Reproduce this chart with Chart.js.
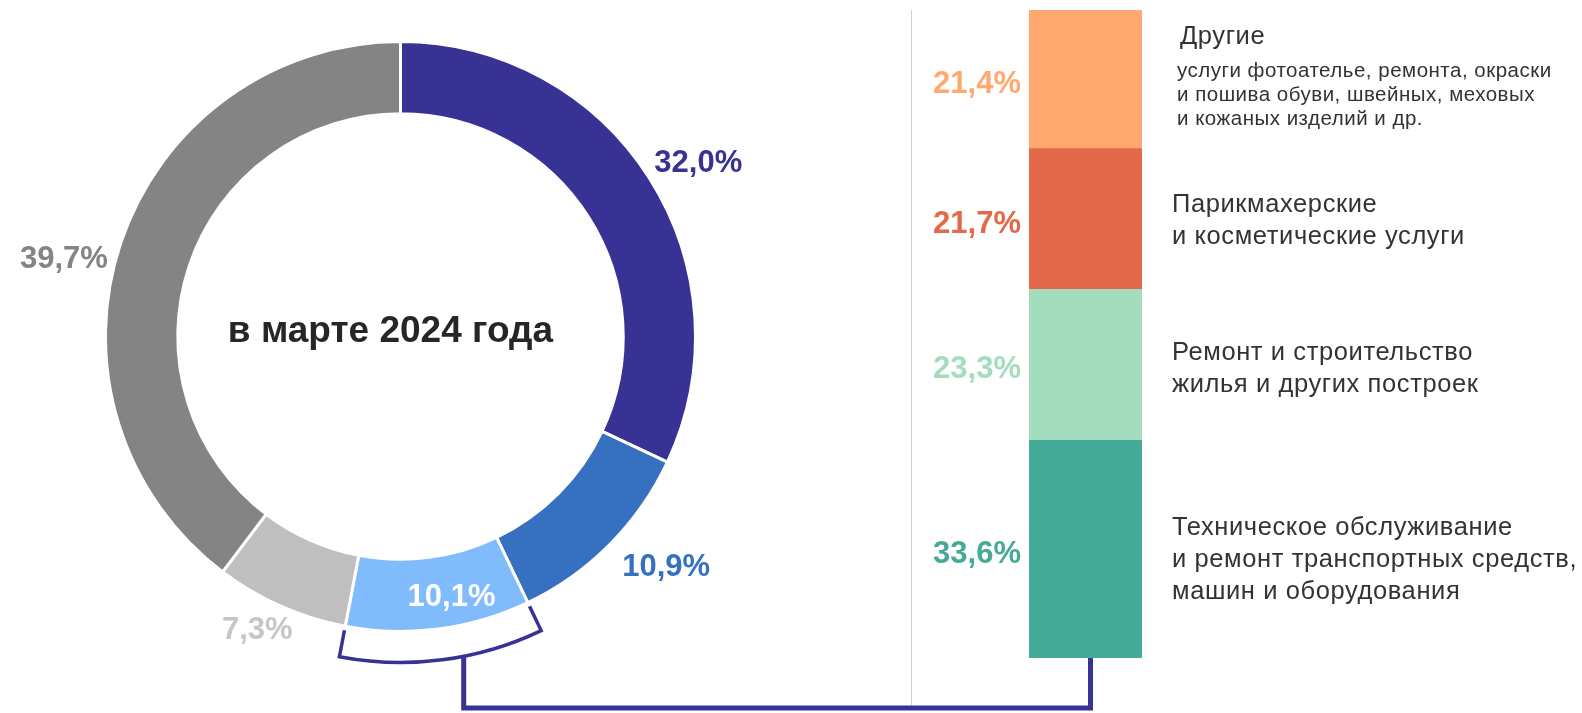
<!DOCTYPE html>
<html lang="ru">
<head>
<meta charset="utf-8">
<script src="https://cdn.jsdelivr.net/npm/chart.js@4.4.1/dist/chart.umd.min.js"></script>
<style>
  html, body { margin: 0; padding: 0; background: #fff; }
  body { width: 1582px; height: 713px; position: relative; overflow: hidden; }
  canvas { position: absolute; left: 0; top: 0; }
  #divider { position: absolute; left: 911px; top: 10px; width: 1px; height: 696px; background: #d2d2d2; }
</style>
</head>
<body>
<canvas id="ringChart" width="1582" height="713"></canvas>
<div id="divider"></div>
<canvas id="stackChart" width="1582" height="713"></canvas>
<script>
// кольцо: структура, в марте 2024 года
const ringLabels = ["Группа 1", "Группа 2", "Бытовые услуги", "Группа 4", "Группа 5"];
const ringValues = [32.0, 10.9, 10.1, 7.3, 39.7];
const ringColors = ["#373294", "#3670c0", "#80bcfc", "#bfbfbf", "#848484"];
const ringTextColors = ["#373294", "#3670c0", "#ffffff", "#c6c6c6", "#848484"];
const ringTitle = "в марте 2024 года";

// столбец: бытовые услуги (снизу вверх)
const stackValues = [33.6, 23.3, 21.7, 21.4];
const stackColors = ["#46aa98", "#a3ddbd", "#e2694a", "#ffa970"];
const stackCaptions = [
  ["Техническое обслуживание", "и ремонт транспортных средств,", "машин и оборудования"],
  ["Ремонт и строительство", "жилья и других построек"],
  ["Парикмахерские", "и косметические услуги"],
  ["Другие"]
];
const stackNotes = [[], [], [], ["услуги фотоателье, ремонта, окраски", "и пошива обуви, швейных, меховых", "и кожаных изделий и др."]];

const FONT = "'Liberation Sans', Arial, sans-serif";
const fmt = (v) => v.toFixed(1).replace(".", ",") + "%";
const deg = Math.PI / 180;

const ringLabelPlugin = {
  id: "ringLabels",
  afterDatasetsDraw(chart, args, opts) {
    const ctx = chart.ctx;
    const arcs = chart.getDatasetMeta(0).data;
    ctx.save();
    ctx.font = "bold 31px " + FONT;
    ctx.textAlign = "center";
    ctx.textBaseline = "middle";
    arcs.forEach((arc, i) => {
      const a = (arc.startAngle + arc.endAngle) / 2 + opts.angleShift[i] * deg;
      const r = arc.outerRadius + opts.radiusShift[i];
      ctx.fillStyle = ringTextColors[i];
      ctx.fillText(fmt(ringValues[i]), arc.x + r * Math.cos(a), arc.y + r * Math.sin(a) + 3);
    });
    // подпись в центре
    const c = arcs[0];
    ctx.font = "bold 37px " + FONT;
    ctx.fillStyle = "#262626";
    ctx.fillText(ringTitle, c.x - 10, c.y - 5);
    ctx.restore();
  }
};

const ringChart = new Chart(document.getElementById("ringChart"), {
  type: "doughnut",
  data: {
    labels: ringLabels,
    datasets: [{
      data: ringValues,
      backgroundColor: ringColors,
      borderColor: "#ffffff",
      borderWidth: 3,
    }],
  },
  options: {
    responsive: false,
    animation: false,
    events: [],
    devicePixelRatio: 1,
    cutout: "75.5%",
    rotation: 0,
    layout: { padding: { left: 104, right: 885, top: 40, bottom: 80 } },
    plugins: {
      legend: { display: false },
      tooltip: { enabled: false },
      ringLabels: {
        angleShift: [1.8, -4.2, -3.8, 2.3, -5.1],
        radiusShift: [51, 55, -32, 29, 51],
      },
    },
  },
  plugins: [ringLabelPlugin],
});

const stackTextPlugin = {
  id: "stackText",
  afterDatasetsDraw(chart, args, opts) {
    const ctx = chart.ctx;
    ctx.save();
    ctx.textBaseline = "middle";
    chart.data.datasets.forEach((ds, i) => {
      const bar = chart.getDatasetMeta(i).data[0];
      const mid = (bar.y + bar.base) / 2;
      const left = bar.x - bar.width / 2;
      const right = bar.x + bar.width / 2;

      ctx.letterSpacing = "0px";
      ctx.font = "bold 31px " + FONT;
      ctx.textAlign = "right";
      ctx.fillStyle = stackColors[i];
      ctx.fillText(fmt(stackValues[i]), left - 8, mid + 5);

      ctx.textAlign = "left";
      ctx.fillStyle = "#333333";
      const lines = stackCaptions[i];
      const notes = stackNotes[i];
      ctx.font = "25.5px " + FONT;
      ctx.letterSpacing = "0.6px";
      if (notes.length) {
        ctx.fillText(lines[0], right + 38, mid - 42);
        ctx.font = "20.5px " + FONT;
        ctx.letterSpacing = "0.5px";
        notes.forEach((t, k) => ctx.fillText(t, right + 35, mid - 8 + k * 24));
      } else {
        const y0 = mid + opts.captionShift[i] - (lines.length - 1) * 16;
        lines.forEach((t, k) => ctx.fillText(t, right + 30, y0 + k * 32));
      }
    });
    ctx.letterSpacing = "0px";

    // скобка у сегмента кольца и линия к столбцу
    const arc = ringChart.getDatasetMeta(0).data[2];
    const R = arc.outerRadius;
    const r1 = R + 4, r2 = R + 31;
    const s = arc.startAngle, e = arc.endAngle;
    ctx.strokeStyle = ringColors[0];
    ctx.lineCap = "butt";
    ctx.lineJoin = "miter";
    ctx.lineWidth = 3.5;
    ctx.beginPath();
    ctx.moveTo(arc.x + r1 * Math.cos(s), arc.y + r1 * Math.sin(s));
    ctx.lineTo(arc.x + r2 * Math.cos(s), arc.y + r2 * Math.sin(s));
    ctx.arc(arc.x, arc.y, r2, s, e);
    ctx.lineTo(arc.x + r1 * Math.cos(e), arc.y + r1 * Math.sin(e));
    ctx.stroke();

    const a = (s + e) / 2 + opts.anchorShift * deg;
    const px = arc.x + r2 * Math.cos(a);
    const py = arc.y + r2 * Math.sin(a);
    const bottomBar = chart.getDatasetMeta(0).data[0];
    const yLow = chart.height - 5;
    ctx.lineWidth = 5;
    ctx.beginPath();
    ctx.moveTo(px, py);
    ctx.lineTo(px, yLow);
    ctx.lineTo(bottomBar.x + 5, yLow);
    ctx.lineTo(bottomBar.x + 5, bottomBar.base);
    ctx.stroke();
    ctx.restore();
  }
};

new Chart(document.getElementById("stackChart"), {
  type: "bar",
  data: {
    labels: ["Бытовые услуги"],
    datasets: stackValues.map((v, i) => ({
      label: stackCaptions[i].join(" "),
      data: [v],
      backgroundColor: stackColors[i],
      borderWidth: 0,
      barPercentage: 1,
      categoryPercentage: 1,
    })),
  },
  options: {
    responsive: false,
    animation: false,
    events: [],
    devicePixelRatio: 1,
    layout: { padding: { left: 1029, right: 440, top: 10, bottom: 55 } },
    scales: {
      x: { stacked: true, display: false },
      y: { stacked: true, display: false, min: 0, max: 100 },
    },
    plugins: {
      legend: { display: false },
      tooltip: { enabled: false },
      stackText: { captionShift: [11, 4, 2, 0], anchorShift: -3.8 },
    },
  },
  plugins: [stackTextPlugin],
});
</script>
</body>
</html>
